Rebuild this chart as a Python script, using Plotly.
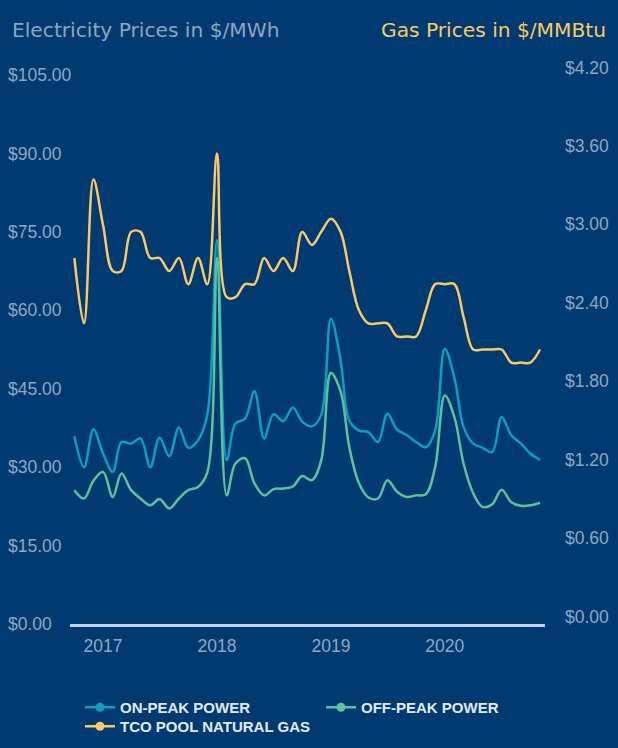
import plotly.graph_objects as go
import pandas as pd

months = pd.date_range("2016-10-01", "2020-11-01", freq="MS")

on_peak = [35.9, 30.0, 37.2, 32.6, 29.1, 34.8, 34.5, 35.5, 30.0, 35.6, 32.1, 37.6,
           33.7, 35.1, 40.0, 73.4, 31.3, 38.3, 39.3, 44.5, 35.5, 40.1, 38.8, 41.4,
           38.7, 37.8, 40.0, 58.4, 50.5, 38.9, 37.0, 36.7, 34.8, 40.2, 37.2, 36.1,
           34.8, 33.8, 37.0, 52.6, 47.0, 37.7, 34.5, 33.7, 32.9, 39.6, 36.1, 34.5,
           32.6, 31.4]
off_peak = [25.6, 24.0, 27.4, 29.1, 24.3, 28.8, 25.6, 24.0, 22.7, 23.9, 22.1, 24.0,
            25.6, 26.2, 29.0, 70.0, 24.6, 30.7, 31.7, 26.9, 24.6, 25.8, 25.9, 26.3,
            28.3, 27.5, 31.3, 48.0, 44.5, 33.8, 26.9, 24.2, 24.0, 27.5, 25.3, 24.3,
            24.6, 24.8, 30.0, 43.7, 39.5, 30.7, 25.0, 22.4, 22.9, 25.7, 23.3, 22.6,
            22.7, 23.2]
gas = [2.80, 2.30, 3.40, 3.05, 2.70, 2.70, 3.00, 3.00, 2.80, 2.80, 2.70, 2.80,
       2.60, 2.80, 2.60, 3.60, 2.50, 2.50, 2.60, 2.60, 2.80, 2.70, 2.80, 2.70,
       3.00, 2.90, 3.00, 3.10, 3.00, 2.70, 2.40, 2.30, 2.30, 2.30, 2.20, 2.20,
       2.20, 2.40, 2.60, 2.60, 2.60, 2.35, 2.10, 2.10, 2.10, 2.10, 2.00, 2.00,
       2.00, 2.10]

year_ticks = ["2017-01-01", "2018-01-01", "2019-01-01", "2020-01-01"]
year_labels = ["2017", "2018", "2019", "2020"]
elec_ticks = [0, 15, 30, 45, 60, 75, 90, 105]
elec_labels = ["$0.00", "$15.00", "$30.00", "$45.00", "$60.00", "$75.00", "$90.00", "$105.00"]
gas_ticks = [0.0, 0.6, 1.2, 1.8, 2.4, 3.0, 3.6, 4.2]
gas_labels = ["$0.00", "$0.60", "$1.20", "$1.80", "$2.40", "$3.00", "$3.60", "$4.20"]

C_ON = "#0e9fbf"
C_OFF = "#5cc29e"
C_GAS = "#f9c867"
BG = "#013a70"
LBL = "#8ea7c4"

W, H = 618, 748
L, R, T, B = 4, 73, 67, 124
pw = W - L - R
ph = H - T - B
ELEC_MAX, GAS_MAX = 105, 4.2
scale_px = 549            # pixel height of 0..105 / 0..4.2
ext = ph / scale_px       # plot is a bit taller than the labelled span
gas_px = GAS_MAX / scale_px
lbl_shift = 7.5 * gas_px  # right-hand labels sit a little above their value

fig = go.Figure()
series = [("ON-PEAK POWER", on_peak, C_ON, "y", "legend"),
          ("OFF-PEAK POWER", off_peak, C_OFF, "y", "legend"),
          ("TCO POOL NATURAL GAS", gas, C_GAS, "y2", "legend2")]
for name, vals, col, ya, lg in series:
    fig.add_trace(go.Scatter(x=months, y=vals, mode="lines", name=name,
                             line=dict(color=col, width=2.5, shape="spline", smoothing=1),
                             yaxis=ya, showlegend=False, hoverinfo="skip"))
for name, vals, col, ya, lg in series:
    fig.add_trace(go.Scatter(x=[None], y=[None], mode="lines+markers", name=name,
                             line=dict(color=col, width=2.5), marker=dict(color=col, size=9),
                             yaxis=ya, showlegend=True, legend=lg))

tickfont = dict(family="Liberation Sans, Arial", size=17.5, color=LBL)
legfont = dict(family="Liberation Sans, Arial", size=15, color="#e3eaf3", weight="bold")

fig.update_layout(
    width=W, height=H,
    margin=dict(l=L, r=R, t=T, b=B, autoexpand=False),
    paper_bgcolor=BG, plot_bgcolor=BG,
    xaxis=dict(domain=[(70 - L) / pw, (545 - L) / pw], range=["2016-09-17", "2020-11-17"],
               tickvals=year_ticks, ticktext=year_labels, showgrid=False,
               zeroline=False, showline=True, linecolor="#c5d2e3", linewidth=2.5,
               tickfont=tickfont, ticks="", ticklabelstandoff=4),
    yaxis=dict(range=[0, ELEC_MAX * ext], tickvals=elec_ticks, ticktext=elec_labels,
               anchor="free", position=0, ticklabelposition="inside",
               ticklabeloverflow="allow", showgrid=False, zeroline=False,
               showline=False, tickfont=tickfont, ticks=""),
    yaxis2=dict(range=[0, GAS_MAX * ext], tickvals=[v + lbl_shift for v in gas_ticks],
                ticktext=gas_labels,
                overlaying="y", side="right", anchor="x", showgrid=False,
                zeroline=False, showline=False, tickfont=tickfont, ticks="",
                ticklabelstandoff=19, ticklabeloverflow="allow"),
    legend=dict(orientation="h", x=(80 - L) / pw, xanchor="left",
                y=-(691 - (T + ph)) / ph, yanchor="top",
                entrywidth=196, entrywidthmode="pixels", font=legfont,
                bgcolor="rgba(0,0,0,0)", itemclick=False),
    legend2=dict(orientation="h", x=(80 - L) / pw, xanchor="left",
                 y=-(710 - (T + ph)) / ph, yanchor="top", font=legfont,
                 bgcolor="rgba(0,0,0,0)", itemclick=False),
    annotations=[
        dict(text="Electricity Prices in $/MWh", x=(10 - L) / pw, y=1 + (T - 30) / ph,
             xref="paper", yref="paper", xanchor="left", yanchor="middle",
             showarrow=False, font=dict(family="DejaVu Sans", size=20.2, color="#8ea5bf")),
        dict(text="Gas Prices in $/MMBtu", x=(608 - L) / pw, y=1 + (T - 30) / ph,
             xref="paper", yref="paper", xanchor="right", yanchor="middle",
             showarrow=False, font=dict(family="DejaVu Sans", size=20.2, color=C_GAS)),
    ],
)

fig.write_html("out.html")
